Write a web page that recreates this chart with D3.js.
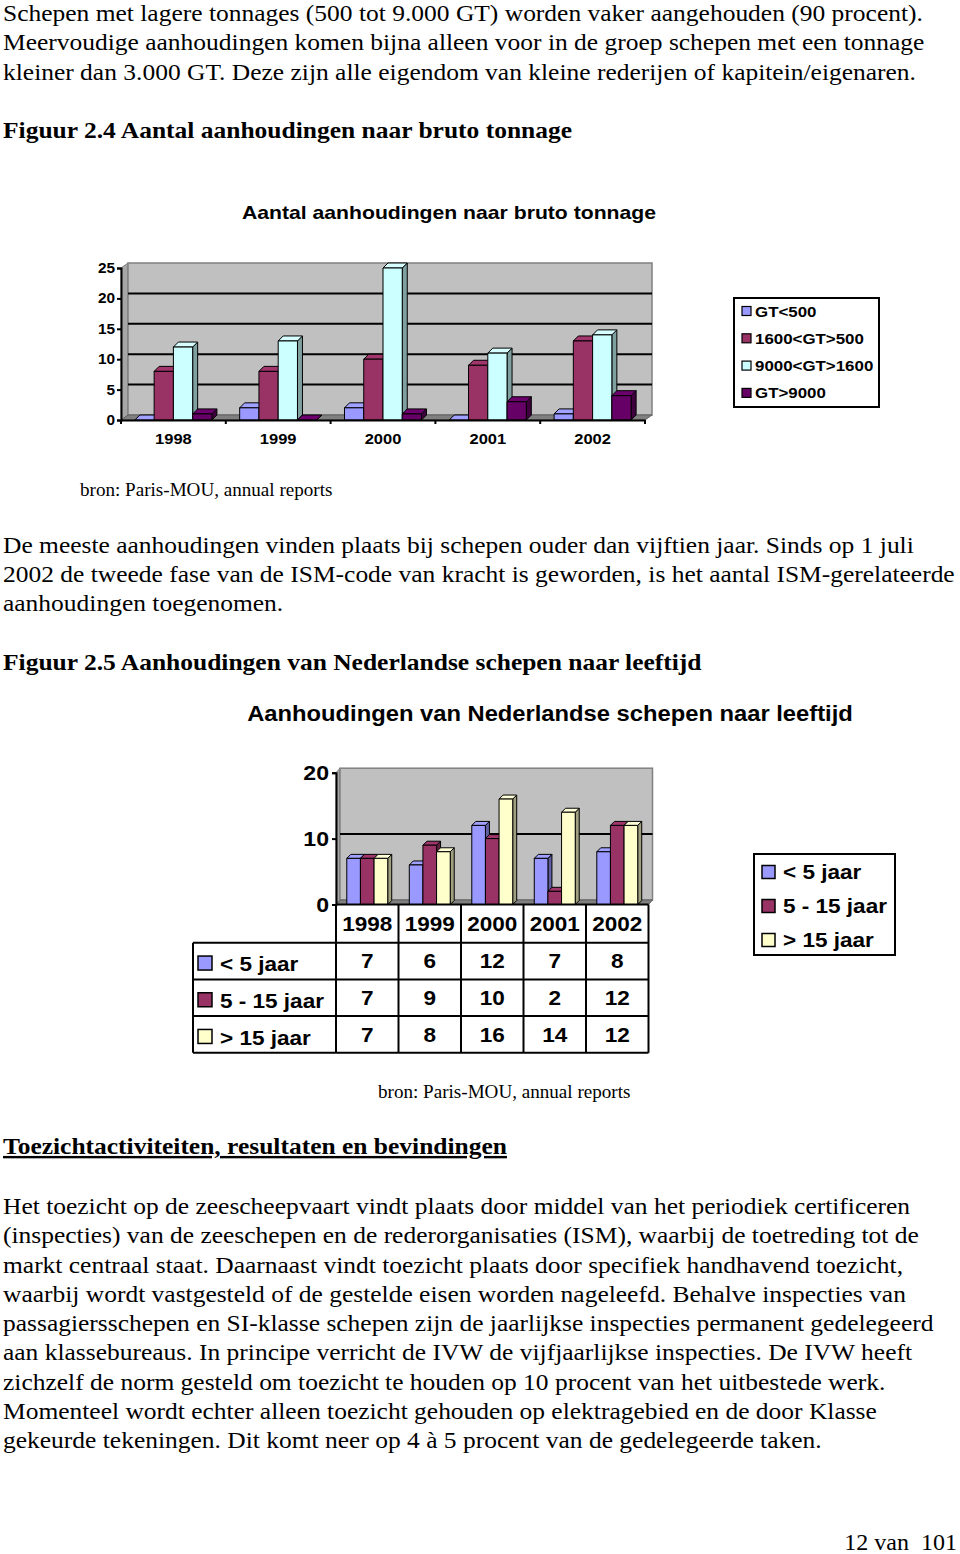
<!DOCTYPE html>
<html>
<head>
<meta charset="utf-8">
<script src="https://cdn.jsdelivr.net/npm/d3@7"></script>
<style>
  html, body { margin: 0; padding: 0; background: #fff; }
  svg { display: block; }
  .body { font-family: "Liberation Serif", "Times New Roman", serif; font-size: 24px; fill: #000; }
  .chart { font-family: "Liberation Sans", Arial, sans-serif; font-weight: bold; fill: #000; }
</style>
</head>
<body>
<div id="page"></div>
<script>
// ---- data ----
const years = ["1998", "1999", "2000", "2001", "2002"];

const tonnageSeries = ["GT<500", "1600<GT>500", "9000<GT>1600", "GT>9000"];
const tonnageColors = ["#9999ff", "#993366", "#ccffff", "#660066"];
const tonnageValues = [
    [0, 2, 2, 0, 1],
    [8, 8, 10, 9, 13],
    [12, 13, 25, 11, 14],
    [1, 0, 1, 3, 4]
];
const tonnageTicks = [0, 5, 10, 15, 20, 25];

const ageSeries = ["< 5 jaar", "5 - 15 jaar", "> 15 jaar"];
const ageColors = ["#9999ff", "#993366", "#ffffcc"];
const ageValues = [
    [7, 6, 12, 7, 8],
    [7, 9, 10, 2, 12],
    [7, 8, 16, 14, 12]
];
const ageTicks = [0, 10, 20];

const introLines = [
    "Schepen met lagere tonnages (500 tot 9.000 GT) worden vaker aangehouden (90 procent).",
    "Meervoudige aanhoudingen komen bijna alleen voor in de groep schepen met een tonnage",
    "kleiner dan 3.000 GT. Deze zijn alle eigendom van kleine rederijen of kapitein/eigenaren."
];
const middleLines = [
    "De meeste aanhoudingen vinden plaats bij schepen ouder dan vijftien jaar. Sinds op 1 juli",
    "2002 de tweede fase van de ISM-code van kracht is geworden, is het aantal ISM-gerelateerde",
    "aanhoudingen toegenomen."
];
const closingLines = [
    "Het toezicht op de zeescheepvaart vindt plaats door middel van het periodiek certificeren",
    "(inspecties) van de zeeschepen en de rederorganisaties (ISM), waarbij de toetreding tot de",
    "markt centraal staat. Daarnaast vindt toezicht plaats door specifiek handhavend toezicht,",
    "waarbij wordt vastgesteld of de gestelde eisen worden nageleefd. Behalve inspecties van",
    "passagiersschepen en SI-klasse schepen zijn de jaarlijkse inspecties permanent gedelegeerd",
    "aan klassebureaus. In principe verricht de IVW de vijfjaarlijkse inspecties. De IVW heeft",
    "zichzelf de norm gesteld om toezicht te houden op 10 procent van het uitbestede werk.",
    "Momenteel wordt echter alleen toezicht gehouden op elektragebied en de door Klasse",
    "gekeurde tekeningen. Dit komt neer op 4 à 5 procent van de gedelegeerde taken."
];

const W = 960, H = 1554;
const BODY_K = 1.062;   // the scan is a little wider than plain Times
const CHART_K = 1.1;

const svg = d3.select("#page").append("svg")
    .attr("width", W)
    .attr("height", H);

svg.append("rect").attr("width", W).attr("height", H).attr("fill", "#fff");

// widen text horizontally around its own x anchor
function stretchX(sel, k) {
    sel.attr("transform", function() {
        const x = +this.getAttribute("x") || 0;
        return `translate(${x * (1 - k)},0) scale(${k},1)`;
    });
    return sel;
}

// ---- body text ----
function paragraph(lines, y0, step) {
    const t = svg.append("g").attr("class", "body")
        .selectAll("text")
        .data(lines)
        .join("text")
        .attr("x", 3)
        .attr("y", (d, i) => y0 + i * step)
        .text(d => d);
    stretchX(t, BODY_K);
}

function line(x, y, txt, k = BODY_K) {
    const t = svg.append("text").attr("class", "body").attr("x", x).attr("y", y).text(txt);
    stretchX(t, k);
    return t;
}

paragraph(introLines, 21, 29.5);
line(3, 138, "Figuur 2.4 Aantal aanhoudingen naar bruto tonnage").attr("font-weight", "bold");

paragraph(middleLines, 553, 29.2);
line(3, 670, "Figuur 2.5 Aanhoudingen van Nederlandse schepen naar leeftijd").attr("font-weight", "bold");

line(3, 1154, "Toezichtactiviteiten, resultaten en bevindingen")
    .attr("font-weight", "bold").attr("text-decoration", "underline");

paragraph(closingLines, 1214, 29.3);

// page number, kept inside the right edge
line(957, 1550, "12 van  101", 1.0).attr("xml:space", "preserve").attr("text-anchor", "end");

line(80, 496, "bron: Paris-MOU, annual reports").style("font-size", "18px");
line(378, 1098, "bron: Paris-MOU, annual reports").style("font-size", "18px");

// ---- 3D bar helper ----
function bar3d(g, x, w, yBase, yTop, dx, dy, color) {
    const c = d3.color(color);
    const bg = g.append("g").attr("stroke", "#000").attr("stroke-width", 1).attr("stroke-linejoin", "round");
    bg.append("polygon")
        .attr("points", [[x + w, yTop], [x + w + dx, yTop + dy], [x + w + dx, yBase + dy], [x + w, yBase]].join(" "))
        .attr("fill", c.darker(1.3));
    bg.append("polygon")
        .attr("points", [[x, yTop], [x + dx, yTop + dy], [x + w + dx, yTop + dy], [x + w, yTop]].join(" "))
        .attr("fill", c.brighter(0.15));
    bg.append("rect")
        .attr("x", x).attr("y", yTop)
        .attr("width", w).attr("height", Math.max(0, yBase - yTop))
        .attr("fill", color);
}

function wall(g, x0, x1, yBase, yTop, dx, dy) {
    // left side wall
    g.append("polygon")
        .attr("points", [[x0, yBase], [x0 + dx, yBase + dy], [x0 + dx, yTop + dy], [x0, yTop]].join(" "))
        .attr("fill", "#a6a6a6").attr("stroke", "#808080");
    // back wall
    g.append("rect")
        .attr("x", x0 + dx).attr("y", yTop + dy)
        .attr("width", x1 - x0).attr("height", yBase - yTop)
        .attr("fill", "#c0c0c0").attr("stroke", "#808080").attr("stroke-width", 1.5);
    // floor
    g.append("polygon")
        .attr("points", [[x0, yBase], [x1, yBase], [x1 + dx, yBase + dy], [x0 + dx, yBase + dy]].join(" "))
        .attr("fill", "#808080").attr("stroke", "#606060");
}

function styleTicks(axisG, size) {
    axisG.select(".domain").attr("stroke-width", 2);
    axisG.selectAll(".tick line").attr("stroke-width", 2);
    const t = axisG.selectAll("text").style("font-size", size).style("font-weight", "bold")
        .style("font-family", "Liberation Sans, Arial, sans-serif");
    stretchX(t, CHART_K);
}

// ---- chart 1: aantal aanhoudingen naar bruto tonnage ----
{
    const g = svg.append("g").attr("class", "chart");
    const left = 121, right = 645, base = 420, top = 268;
    const wdx = 7, wdy = -5;

    stretchX(g.append("text").attr("x", 449).attr("y", 219).attr("text-anchor", "middle")
        .style("font-size", "19px").text("Aantal aanhoudingen naar bruto tonnage"), 1.115);

    const y = d3.scaleLinear().domain([0, 25]).range([base, top]);
    const x = d3.scaleBand().domain(years).range([left, right]);
    const inner = d3.scaleBand().domain(tonnageSeries)
        .range([x.bandwidth() * 0.1325, x.bandwidth() * 0.8675]);

    wall(g, left, right, base, top, wdx, wdy);

    g.append("g").selectAll("line")
        .data(tonnageTicks.slice(1, -1))
        .join("line")
        .attr("x1", left + wdx).attr("x2", right + wdx)
        .attr("y1", d => y(d) + wdy).attr("y2", d => y(d) + wdy)
        .attr("stroke", "#000").attr("stroke-width", 2);

    years.forEach((yr, j) => {
        tonnageSeries.forEach((s, i) => {
            bar3d(g, x(yr) + inner(s), inner.bandwidth(), base, y(tonnageValues[i][j]), 5, -5, tonnageColors[i]);
        });
    });

    const yAxis = d3.axisLeft(y).tickValues(tonnageTicks).tickSize(4).tickPadding(2);
    const ya = g.append("g").attr("transform", `translate(${left},0)`).call(yAxis);
    styleTicks(ya, "14px");

    const xAxis = d3.axisBottom(x).tickSize(0).tickPadding(13);
    const xa = g.append("g").attr("transform", `translate(0,${base})`).call(xAxis);
    styleTicks(xa, "15px");
    xa.selectAll(".sep").data(d3.range(years.length + 1)).join("line")
        .attr("class", "sep")
        .attr("x1", i => left + i * x.step()).attr("x2", i => left + i * x.step())
        .attr("y1", 0).attr("y2", 4).attr("stroke", "#000").attr("stroke-width", 2);

    // legend
    const lg = g.append("g");
    lg.append("rect").attr("x", 734).attr("y", 298).attr("width", 145).attr("height", 109)
        .attr("fill", "#fff").attr("stroke", "#000").attr("stroke-width", 2);
    const items = lg.selectAll(".item").data(tonnageSeries).join("g").attr("class", "item")
        .attr("transform", (d, i) => `translate(742,${311 + i * 27.3})`);
    items.append("rect").attr("x", 0).attr("y", -4.5).attr("width", 9).attr("height", 9)
        .attr("fill", (d, i) => tonnageColors[i]).attr("stroke", "#000").attr("stroke-width", 1.2);
    stretchX(items.append("text").attr("x", 13).attr("dy", "0.36em").style("font-size", "15.5px").text(d => d), 1.09);
}

// ---- chart 2: aanhoudingen naar leeftijd ----
{
    const g = svg.append("g").attr("class", "chart");
    const left = 336, right = 648.5, base = 904.5, top = 772.7;
    const wdx = 4, wdy = -4.5;

    stretchX(g.append("text").attr("x", 550).attr("y", 721).attr("text-anchor", "middle")
        .style("font-size", "21.5px").text("Aanhoudingen van Nederlandse schepen naar leeftijd"), 1.105);

    const y = d3.scaleLinear().domain([0, 20]).range([base, top]);
    const x = d3.scaleBand().domain(years).range([left, right]);
    const inner = d3.scaleBand().domain(ageSeries)
        .range([x.bandwidth() * 0.1725, x.bandwidth() * 0.8275]);

    wall(g, left, right, base, top, wdx, wdy);

    g.append("g").selectAll("line")
        .data([10])
        .join("line")
        .attr("x1", left + wdx).attr("x2", right + wdx)
        .attr("y1", d => y(d) + wdy).attr("y2", d => y(d) + wdy)
        .attr("stroke", "#000").attr("stroke-width", 2);

    years.forEach((yr, j) => {
        ageSeries.forEach((s, i) => {
            bar3d(g, x(yr) + inner(s), inner.bandwidth(), base, y(ageValues[i][j]), 4, -4, ageColors[i]);
        });
    });

    const yAxis = d3.axisLeft(y).tickValues(ageTicks).tickSize(4).tickPadding(3);
    const ya = g.append("g").attr("transform", `translate(${left},0)`).call(yAxis);
    styleTicks(ya, "21px");

    // data table
    const rowTop = 942.7, rowH = 36.7, labelLeft = 193;
    const tg = g.append("g").attr("stroke", "#000").attr("stroke-width", 2);
    tg.append("line").attr("x1", left).attr("x2", right).attr("y1", base).attr("y2", base);
    d3.range(years.length + 1).forEach(i => {
        const xx = left + i * x.step();
        tg.append("line").attr("x1", xx).attr("x2", xx).attr("y1", base).attr("y2", rowTop + 3 * rowH);
    });
    d3.range(ageSeries.length + 1).forEach(i => {
        tg.append("line").attr("x1", labelLeft).attr("x2", right)
            .attr("y1", rowTop + i * rowH).attr("y2", rowTop + i * rowH);
    });
    tg.append("line").attr("x1", labelLeft).attr("x2", labelLeft).attr("y1", rowTop).attr("y2", rowTop + 3 * rowH);

    stretchX(g.append("g").selectAll("text").data(years).join("text")
        .attr("x", d => x(d) + x.bandwidth() / 2)
        .attr("y", (base + rowTop) / 2)
        .attr("dy", "0.36em").attr("text-anchor", "middle")
        .style("font-size", "20.5px").text(d => d), CHART_K);

    ageSeries.forEach((s, i) => {
        const cy = rowTop + (i + 0.5) * rowH;
        g.append("rect").attr("x", 198).attr("y", cy - 5).attr("width", 14).attr("height", 14)
            .attr("fill", ageColors[i]).attr("stroke", "#000").attr("stroke-width", 1.5);
        stretchX(g.append("text").attr("x", 220).attr("y", cy + 3).attr("dy", "0.36em")
            .style("font-size", "20.5px").text(s), CHART_K);
        stretchX(g.append("g").selectAll("text").data(ageValues[i]).join("text")
            .attr("x", (d, j) => x(years[j]) + x.bandwidth() / 2)
            .attr("y", cy).attr("dy", "0.36em").attr("text-anchor", "middle")
            .style("font-size", "20.5px").text(d => d), CHART_K);
    });

    // legend
    const lg = g.append("g");
    lg.append("rect").attr("x", 754).attr("y", 854).attr("width", 141).attr("height", 101)
        .attr("fill", "#fff").attr("stroke", "#000").attr("stroke-width", 2);
    const items = lg.selectAll(".item").data(ageSeries).join("g").attr("class", "item")
        .attr("transform", (d, i) => `translate(762,${872 + i * 34})`);
    items.append("rect").attr("x", 0).attr("y", -6.5).attr("width", 13).attr("height", 13)
        .attr("fill", (d, i) => ageColors[i]).attr("stroke", "#000").attr("stroke-width", 1.5);
    stretchX(items.append("text").attr("x", 21).attr("dy", "0.36em").style("font-size", "20.5px").text(d => d), CHART_K);
}
</script>
</body>
</html>
